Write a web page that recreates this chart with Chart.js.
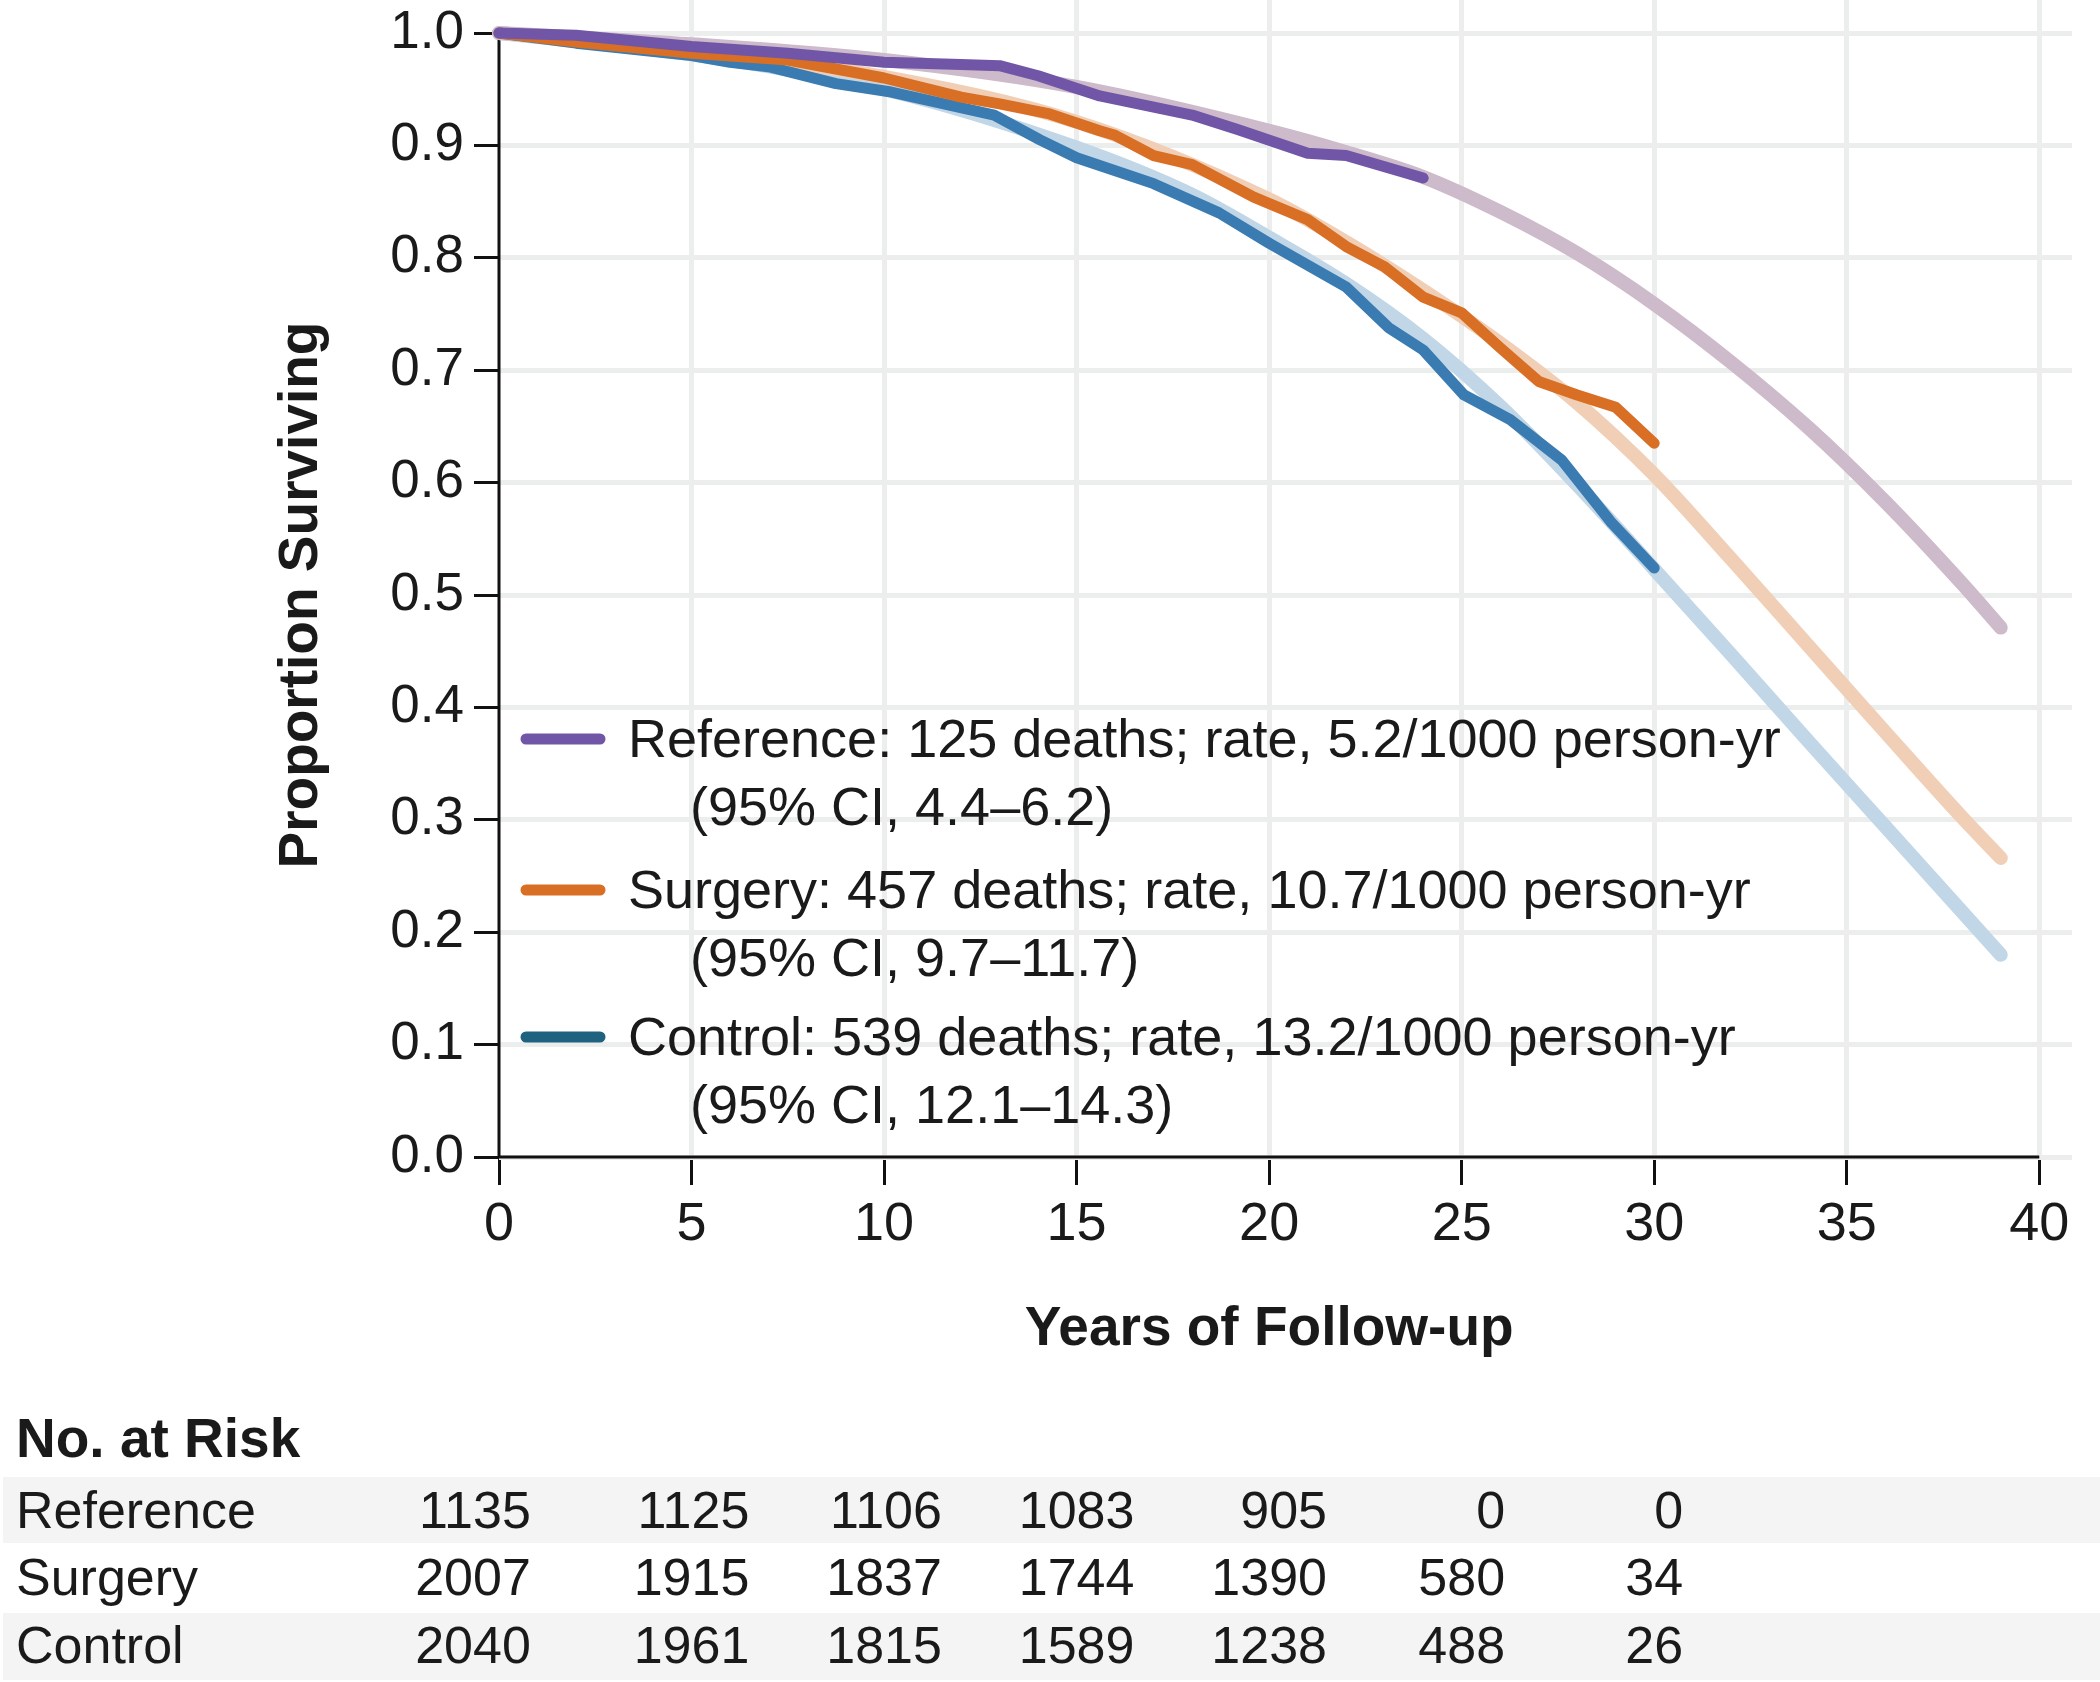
<!DOCTYPE html>
<html>
<head>
<meta charset="utf-8">
<title>Proportion Surviving</title>
<script src="https://cdn.jsdelivr.net/npm/chart.js@4.4.1/dist/chart.umd.min.js"></script>
<style>
  html, body { margin: 0; padding: 0; background: #fff; }
  #wrap { width: 2100px; height: 1682px; }
</style>
</head>
<body>
<div id="wrap"><canvas id="survivalChart" width="2100" height="1682"></canvas></div>
<script>
// ====================================
// Data
// ====================================
var xTicks = [0, 5, 10, 15, 20, 25, 30, 35, 40];
var yTicks = [0, 0.1, 0.2, 0.3, 0.4, 0.5, 0.6, 0.7, 0.8, 0.9, 1.0];

// observed survival curves
var refYears = [0, 2, 5, 7.5, 10, 12, 13, 14, 15.6, 18, 19.2, 21, 22, 24];
var refSurv = [1.0, 0.998, 0.988, 0.982, 0.974, 0.972, 0.971, 0.962, 0.944, 0.927, 0.914, 0.893, 0.891, 0.871];

var surgYears = [0, 2, 5, 7.5, 10, 12, 13, 14.3, 15.6, 16, 17, 18, 19.6, 21, 22, 23, 24, 25, 26, 27, 28, 29, 30];
var surgSurv = [1.0, 0.992, 0.982, 0.976, 0.960, 0.943, 0.937, 0.928, 0.913, 0.909, 0.891, 0.883, 0.854, 0.834, 0.810, 0.792, 0.765, 0.751, 0.720, 0.690, 0.678, 0.667, 0.635];

var ctrlYears = [0, 2, 5, 6, 7, 8.75, 10.1, 12.86, 14.05, 15, 17, 18.7, 20, 22, 23.1, 24, 25.06, 26.26, 27.6, 28.9, 30];
var ctrlSurv = [1.0, 0.991, 0.980, 0.974, 0.970, 0.955, 0.948, 0.927, 0.905, 0.889, 0.866, 0.840, 0.813, 0.774, 0.738, 0.718, 0.678, 0.656, 0.620, 0.564, 0.524];

// fitted (extrapolated) curves
var refFitYears = [0, 5, 10, 15, 20, 22, 24, 26, 28, 30, 32, 34, 36, 38, 39];
var refFitSurv = [1.0, 0.990, 0.976, 0.952, 0.913, 0.894, 0.872, 0.841, 0.804, 0.759, 0.707, 0.649, 0.583, 0.510, 0.471];

var surgFitYears = [0, 5, 10, 15, 20, 22, 24, 26, 28, 30, 32, 34, 36, 38, 39];
var surgFitSurv = [1.0, 0.984, 0.961, 0.921, 0.852, 0.814, 0.771, 0.724, 0.671, 0.607, 0.532, 0.455, 0.378, 0.302, 0.266];

var ctrlFitYears = [0, 5, 10, 15, 18, 20, 22, 24, 26, 28, 30, 32, 34, 36, 38, 39];
var ctrlFitSurv = [1.0, 0.981, 0.950, 0.898, 0.856, 0.818, 0.777, 0.728, 0.668, 0.598, 0.523, 0.447, 0.370, 0.294, 0.218, 0.180];

// legend text
var legendLine1 = [
    'Reference: 125 deaths; rate, 5.2/1000 person-yr',
    'Surgery: 457 deaths; rate, 10.7/1000 person-yr',
    'Control: 539 deaths; rate, 13.2/1000 person-yr'
];
var legendLine2 = ['(95% CI, 4.4\u20136.2)', '(95% CI, 9.7\u201311.7)', '(95% CI, 12.1\u201314.3)'];

// number at risk
var riskGroups = ['Reference', 'Surgery', 'Control'];
var riskYears = [0, 5, 10, 15, 20, 25, 30];
var riskRef = [1135, 1125, 1106, 1083, 905, 0, 0];
var riskSurg = [2007, 1915, 1837, 1744, 1390, 580, 34];
var riskCtrl = [2040, 1961, 1815, 1589, 1238, 488, 26];

// ====================================
// Styles
// ====================================
var FONT = '"Liberation Sans", Arial, sans-serif';
var TEXT = '#1a1a1a';
var GRID = '#eceeee';
var colors = {
    ref: '#7156a8', surg: '#d86f25', ctrl: '#3a7bb2',
    refFit: '#cdbacb', surgFit: '#f0cfb6', ctrlFit: '#c1d6e6',
    ctrlLegend: '#1e6280'
};
var legendColors = [colors.ref, colors.surg, colors.ctrlLegend];

function toPoints(xs, ys) {
    return xs.map(function (x, i) { return { x: x, y: ys[i] }; });
}

function lineSet(label, xs, ys, color, width, smooth) {
    return {
        label: label,
        data: toPoints(xs, ys),
        borderColor: color,
        borderWidth: width,
        borderCapStyle: 'round',
        borderJoinStyle: 'round',
        pointRadius: 0,
        fill: false,
        clip: false,
        tension: smooth ? 0.4 : 0,
        cubicInterpolationMode: smooth ? 'monotone' : 'default'
    };
}

// ====================================
// Axis lines, legend, titles, table
// ====================================
var overlay = {
    id: 'overlay',
    beforeDatasetsDraw: function (chart) {
        var ctx = chart.ctx, xs = chart.scales.x, ys = chart.scales.y;
        ctx.save();
        ctx.strokeStyle = '#111';
        ctx.lineWidth = 3;
        ctx.beginPath();
        ctx.moveTo(xs.getPixelForValue(0), ys.getPixelForValue(1.0));
        ctx.lineTo(xs.getPixelForValue(0), ys.getPixelForValue(0));
        ctx.lineTo(xs.getPixelForValue(40), ys.getPixelForValue(0));
        ctx.stroke();
        ctx.restore();
    },
    afterDraw: function (chart) {
        var ctx = chart.ctx, xs = chart.scales.x, ys = chart.scales.y;
        ctx.save();
        ctx.fillStyle = TEXT;

        // legend
        var base1 = [757, 908, 1055];
        ctx.font = '54px ' + FONT;
        ctx.textAlign = 'left';
        ctx.textBaseline = 'alphabetic';
        for (var i = 0; i < legendLine1.length; i++) {
            ctx.strokeStyle = legendColors[i];
            ctx.lineWidth = 11;
            ctx.lineCap = 'round';
            ctx.beginPath();
            ctx.moveTo(526, base1[i] - 18);
            ctx.lineTo(600, base1[i] - 18);
            ctx.stroke();
            ctx.fillText(legendLine1[i], 628, base1[i]);
            ctx.fillText(legendLine2[i], 690, base1[i] + 68);
        }

        // axis titles
        ctx.font = 'bold 55px ' + FONT;
        ctx.textAlign = 'center';
        var xMid = (xs.getPixelForValue(0) + xs.getPixelForValue(40)) / 2;
        ctx.fillText('Years of Follow-up', xMid, 1345);
        var yMid = (ys.getPixelForValue(0) + ys.getPixelForValue(1)) / 2;
        ctx.save();
        ctx.translate(317, yMid);
        ctx.rotate(-Math.PI / 2);
        ctx.fillText('Proportion Surviving', 0, 0);
        ctx.restore();

        // number at risk table
        ctx.textAlign = 'left';
        ctx.fillText('No. at Risk', 16, 1457);
        ctx.fillStyle = '#f4f4f4';
        ctx.fillRect(3, 1477, 2097, 66);
        ctx.fillRect(3, 1613, 2097, 67);
        ctx.fillStyle = TEXT;
        ctx.font = '52px ' + FONT;
        var rows = [riskRef, riskSurg, riskCtrl];
        var rowBase = [1528, 1595, 1663];
        for (var r = 0; r < rows.length; r++) {
            ctx.textAlign = 'left';
            ctx.fillText(riskGroups[r], 16, rowBase[r]);
        }
        ctx.textAlign = 'right';
        for (var c = 0; c < riskYears.length; c++) {
            var maxW = 0;
            for (r = 0; r < rows.length; r++) {
                maxW = Math.max(maxW, ctx.measureText(String(rows[r][c])).width);
            }
            var right = xs.getPixelForValue(riskYears[c]) + maxW / 2 - (c === 0 ? 26 : 0);
            for (r = 0; r < rows.length; r++) {
                ctx.fillText(String(rows[r][c]), right, rowBase[r]);
            }
        }
        ctx.restore();
    }
};

// ====================================
// Chart
// ====================================
var ctx = document.getElementById('survivalChart').getContext('2d');
new Chart(ctx, {
    type: 'line',
    data: {
        datasets: [
            lineSet('Reference', refYears, refSurv, colors.ref, 11, false),
            lineSet('Surgery', surgYears, surgSurv, colors.surg, 11, false),
            lineSet('Control', ctrlYears, ctrlSurv, colors.ctrl, 11, false),
            lineSet('Reference fit', refFitYears, refFitSurv, colors.refFit, 14, true),
            lineSet('Surgery fit', surgFitYears, surgFitSurv, colors.surgFit, 14, true),
            lineSet('Control fit', ctrlFitYears, ctrlFitSurv, colors.ctrlFit, 14, true)
        ]
    },
    options: {
        responsive: false,
        devicePixelRatio: 1,
        animation: false,
        layout: { padding: { left: 0, right: 28, top: 0, bottom: 425 } },
        plugins: {
            legend: { display: false },
            tooltip: { enabled: false }
        },
        scales: {
            x: {
                type: 'linear',
                min: 0,
                max: 40.85,
                afterBuildTicks: function (s) { s.ticks = xTicks.map(function (v) { return { value: v }; }); },
                afterFit: function (s) { s.height = 100; s.paddingLeft = 0; s.paddingRight = 0; },
                border: { display: false },
                grid: {
                    color: function (c) { return c.tick && c.tick.value === 0 ? 'rgba(0,0,0,0)' : GRID; },
                    lineWidth: 5,
                    tickColor: '#111',
                    tickWidth: 3,
                    tickLength: 28
                },
                ticks: {
                    autoSkip: false,
                    maxRotation: 0,
                    padding: 8,
                    color: TEXT,
                    font: { family: FONT, size: 54 },
                    callback: function (v) { return String(v); }
                }
            },
            y: {
                type: 'linear',
                min: 0,
                max: 1.0294,
                afterBuildTicks: function (s) { s.ticks = yTicks.map(function (v) { return { value: v }; }); },
                afterFit: function (s) { s.width = 499; s.paddingTop = 0; s.paddingBottom = 0; },
                border: { display: false },
                grid: {
                    color: GRID,
                    lineWidth: 5,
                    tickColor: '#111',
                    tickWidth: 3,
                    tickLength: 25
                },
                ticks: {
                    padding: 10,
                    color: TEXT,
                    font: { family: FONT, size: 53 },
                    callback: function (v) { return v.toFixed(1); }
                }
            }
        }
    },
    plugins: [overlay]
});
</script>
</body>
</html>
